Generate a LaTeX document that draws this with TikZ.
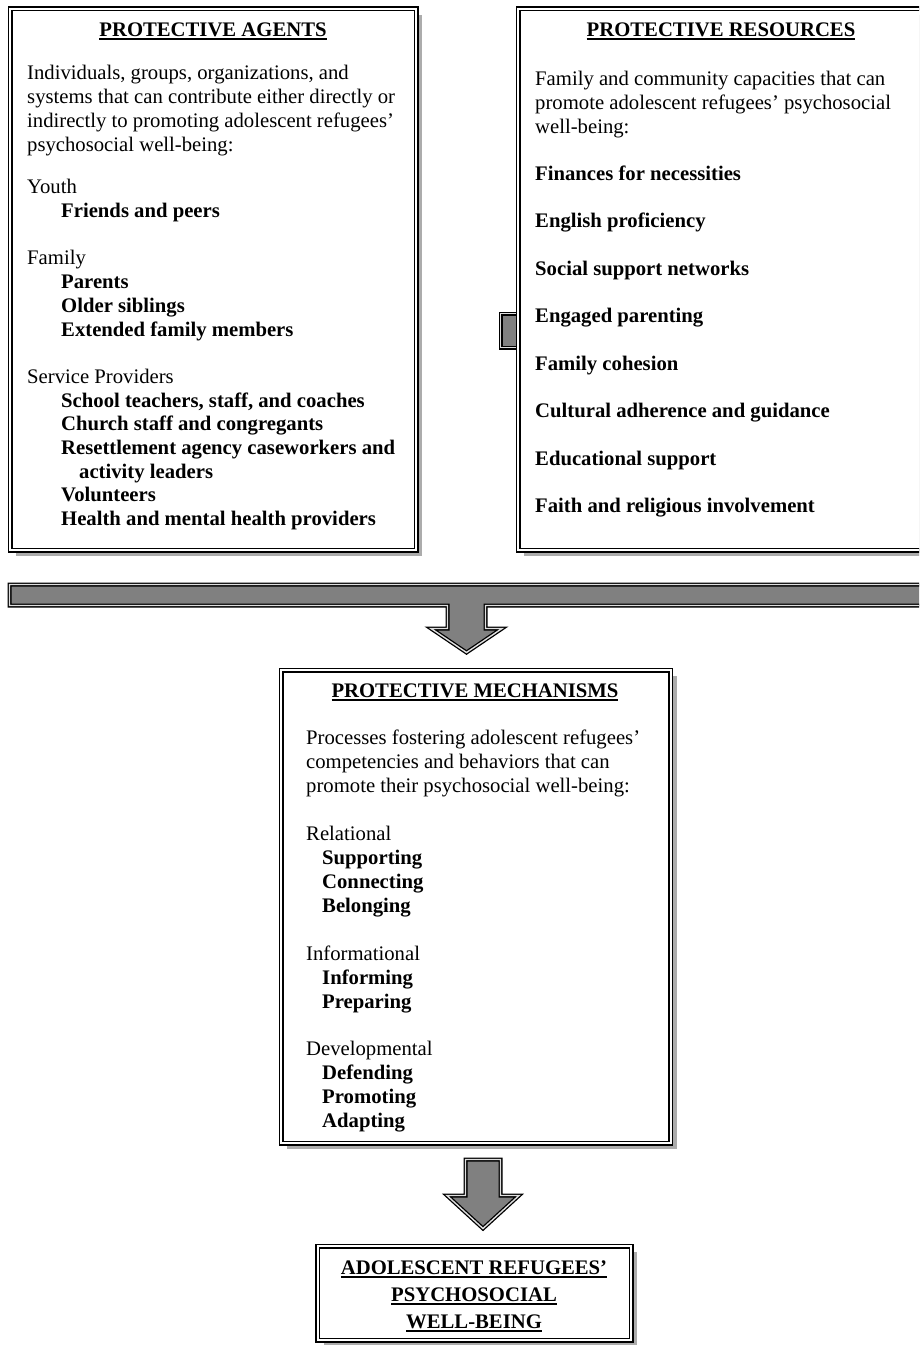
\documentclass[tikz,border=0pt]{standalone}
\usepackage{fontspec}
\setmainfont{Liberation Serif}
\usetikzlibrary{shadows}
\newcommand\myul[1]{\setbox0=\hbox{#1}\leavevmode\rlap{\vrule width \wd0 height -2.3pt depth 3.8pt}\box0}
\begin{document}
\begin{tikzpicture}[x=1pt,y=-1pt,
  box/.style={draw=black, line width=1.6pt, double=white, double distance=1.8pt, fill=white,
    inner sep=0pt, anchor=north west,
    drop shadow={shadow xshift=6pt, shadow yshift=-6pt, fill=gray!65, opacity=1}},
  arr/.style={draw=black, line width=1.3pt, double=gray!25, double distance=1.4pt, fill=gray, line join=miter},
  body/.style={font=\fontsize{20.7}{24}\selectfont, inner sep=0pt, anchor=base west},
  bold/.style={body, font=\fontsize{20.7}{24}\selectfont\bfseries},
  ttl/.style={font=\fontsize{20.7}{24}\selectfont\bfseries, inner sep=0pt, anchor=base}
]
\useasboundingbox (0,0) rectangle (919,1345);
\clip (0,0) rectangle (919,1345);

% stub behind resources box
\draw[arr] (500.5,313.5) rectangle (525,347.5);

% boxes
\node[box, minimum width=406pt, minimum height=541.5pt] (agents) at (9.5,8) {};
\node[box, minimum width=406pt, minimum height=541.5pt] (resources) at (517.5,8) {};
\node[box, minimum width=389.5pt, minimum height=473pt] (mech) at (280.5,669.5) {};
\node[box, minimum width=313.5pt, minimum height=94pt] (outcome) at (317,1245.5) {};

% T-shaped arrow from the top boxes to mechanisms
\draw[arr] (9.5,584.5) -- (935,584.5) -- (935,605.5) -- (485.5,605.5) -- (485.5,628.5)
  -- (502,628.5) -- (466.5,652.5) -- (431,628.5) -- (447.5,628.5) -- (447.5,605.5)
  -- (9.5,605.5) -- cycle;

% arrow from mechanisms to outcome
\draw[arr] (465.5,1159.5) -- (500.5,1159.5) -- (500.5,1195.5) -- (519,1195.5)
  -- (483,1228.5) -- (447,1195.5) -- (465.5,1195.5) -- cycle;

% left box text
\node[ttl] (agT) at (213,36) {\myul{PROTECTIVE AGENTS}};
\node[body] (ag1) at (27,79) {Individuals, groups, organizations, and};
\node[body] (ag2) at (27,103) {systems that can contribute either directly or};
\node[body] (ag3) at (27,127) {indirectly to promoting adolescent refugees’};
\node[body] (ag4) at (27,151) {psychosocial well-being:};
\node[body] (ag5) at (27,193) {Youth};
\node[bold] (ag6) at (61,217) {Friends and peers};
\node[body] (ag7) at (27,264) {Family};
\node[bold] (ag8) at (61,288) {Parents};
\node[bold] (ag9) at (61,312) {Older siblings};
\node[bold] (ag10) at (61,336) {Extended family members};
\node[body] (ag11) at (27,383) {Service Providers};
\node[bold] (ag12) at (61,407) {School teachers, staff, and coaches};
\node[bold] (ag13) at (61,430.5) {Church staff and congregants};
\node[bold] (ag14) at (61,454) {Resettlement agency caseworkers and};
\node[bold] (ag15) at (79,478) {activity leaders};
\node[bold] (ag16) at (61,501.5) {Volunteers};
\node[bold] (ag17) at (61,525) {Health and mental health providers};

% right box text
\node[ttl] (reT) at (721,36) {\myul{PROTECTIVE RESOURCES}};
\node[body] (re1) at (535,85) {Family and community capacities that can};
\node[body] (re2) at (535,109) {promote adolescent refugees’ psychosocial};
\node[body] (re3) at (535,133) {well-being:};
\node[bold] (re4) at (535,180) {Finances for necessities};
\node[bold] (re5) at (535,227.5) {English proficiency};
\node[bold] (re6) at (535,275) {Social support networks};
\node[bold] (re7) at (535,322.5) {Engaged parenting};
\node[bold] (re8) at (535,370) {Family cohesion};
\node[bold] (re9) at (535,417.5) {Cultural adherence and guidance};
\node[bold] (re10) at (535,465) {Educational support};
\node[bold] (re11) at (535,512.5) {Faith and religious involvement};

% middle box text
\node[ttl] (meT) at (475,697) {\myul{PROTECTIVE MECHANISMS}};
\node[body] (me1) at (306,744) {Processes fostering adolescent refugees’};
\node[body] (me2) at (306,768) {competencies and behaviors that can};
\node[body] (me3) at (306,792) {promote their psychosocial well-being:};
\node[body] (me4) at (306,840) {Relational};
\node[bold] (me5) at (322,864) {Supporting};
\node[bold] (me6) at (322,888) {Connecting};
\node[bold] (me7) at (322,912) {Belonging};
\node[body] (me8) at (306,960) {Informational};
\node[bold] (me9) at (322,984) {Informing};
\node[bold] (me10) at (322,1008) {Preparing};
\node[body] (me11) at (306,1055) {Developmental};
\node[bold] (me12) at (322,1079) {Defending};
\node[bold] (me13) at (322,1103) {Promoting};
\node[bold] (me14) at (322,1127) {Adapting};

% outcome text
\node[ttl] (ou1) at (474,1274) {\myul{ADOLESCENT REFUGEES’}};
\node[ttl] (ou2) at (474,1301) {\myul{PSYCHOSOCIAL}};
\node[ttl] (ou3) at (474,1328) {\myul{WELL-BEING}};
\end{tikzpicture}
\end{document}
